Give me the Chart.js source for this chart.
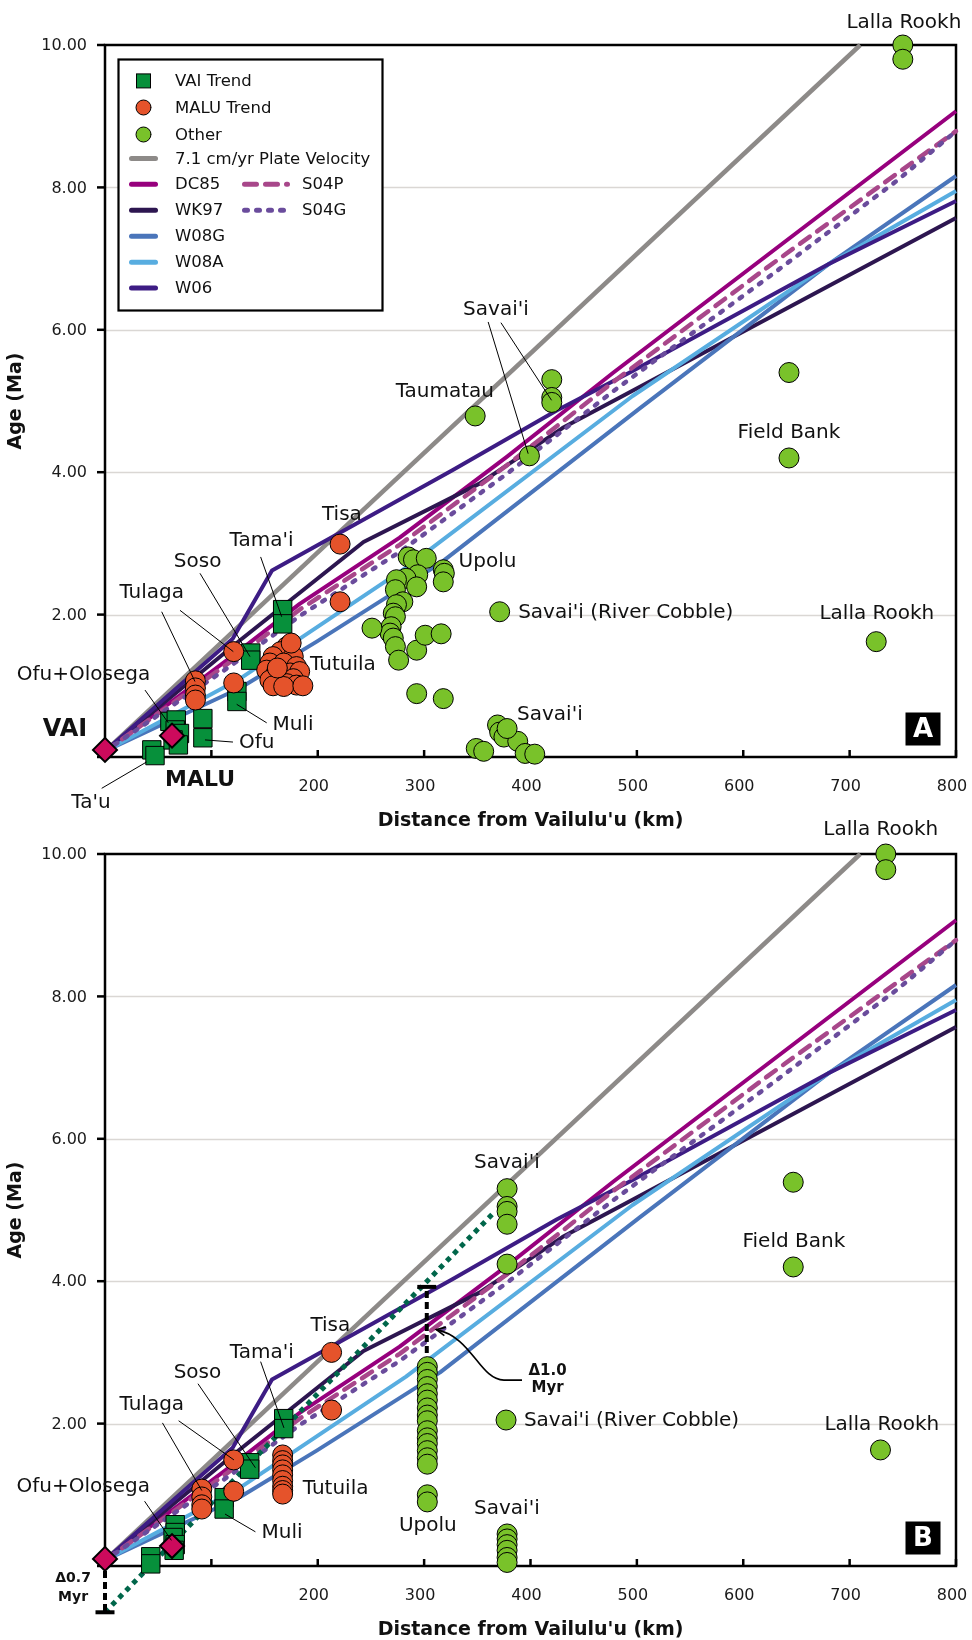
<!DOCTYPE html>
<html>
<head>
<meta charset="utf-8">
<title>Age vs distance from Vailulu'u</title>
<script src="https://cdn.jsdelivr.net/npm/chart.js@4.4.1/dist/chart.umd.min.js"></script>
<style>
  html, body { margin: 0; padding: 0; background: #fff; }
  #wrap { position: relative; width: 972px; height: 1640px; overflow: hidden; }
  canvas { position: absolute; left: 0; }
  #panelA { top: 0; }
  #panelB { top: 809px; }
</style>
</head>
<body>
<div id="wrap">
  <canvas id="panelA" width="972" height="840"></canvas>
  <canvas id="panelB" width="972" height="831"></canvas>
</div>
<script>
// ---------- axes ----------
const xTickValues = [100, 200, 300, 400, 500, 600, 700, 800];
const xTickLabels = ['', '200', '300', '400', '500', '600', '700', '800'];
const yTickValues = [0, 2, 4, 6, 8, 10];
const yTickLabels = ['', '2.00', '4.00', '6.00', '8.00', '10.00'];

// ---------- plate-motion model tracks [distance km, age Ma] ----------
const velocity71 = [[0, 0.08], [710, 10]];
const dc85 = [[0, 0.08], [120, 1.42], [183, 2.15], [277, 3.08], [378, 4.22], [478, 5.4], [800, 9.07]];
const s04p = [[0, 0.08], [120, 1.36], [183, 2.07], [277, 2.98], [378, 4.1], [478, 5.27], [622, 6.87], [745, 8.2], [800, 8.79]];
const s04g = [[0, 0.08], [120, 1.3], [183, 1.98], [277, 2.88], [378, 3.98], [478, 5.14], [622, 6.72], [745, 8.1], [800, 8.79]];
const wk97 = [[0, 0.08], [127, 1.64], [243, 3.02], [352, 3.84], [430, 4.62], [484, 5.05], [800, 7.57]];
const w08g = [[0, 0.08], [127, 0.97], [199, 1.62], [315, 2.72], [503, 4.9], [680, 6.92], [800, 8.16]];
const w08a = [[0, 0.08], [127, 1.1], [283, 2.66], [496, 5.07], [680, 6.92], [800, 7.95]];
const w06 = [[0, 0.08], [120, 1.66], [157, 2.62], [327, 4.03], [425, 4.87], [496, 5.42], [680, 6.92], [800, 7.81]];

// ---------- panel A samples ----------
const volcanoCentresA = [[0, 0.1], [63, 0.3]];
const vaiTrendA = [[44, 0.1], [47, 0.02], [61, 0.5], [67, 0.52], [66, 0.38], [70, 0.33], [64, 0.24], [69, 0.17],
  [92, 0.54], [92, 0.27], [124, 0.92], [124, 0.78], [137, 1.46], [137, 1.36], [167, 2.07], [167, 1.87]];
const maluTrendA = [[85, 1.07], [85, 0.97], [85, 0.87], [85, 0.8], [121, 1.48], [121, 1.04],
  [171, 1.55], [165, 1.48], [158, 1.41], [177, 1.41], [155, 1.32], [168, 1.32], [180, 1.27], [152, 1.22],
  [161, 1.18], [174, 1.18], [183, 1.2], [155, 1.08], [165, 1.06], [177, 1.1], [171, 1.03], [180, 1.01],
  [158, 1.0], [168, 0.99], [186, 1.0], [162, 1.25], [175, 1.6],
  [221, 2.99], [221, 2.18]];
const otherA = [[750, 10.0], [750, 9.8], [420, 5.3], [420, 5.05], [420, 4.98], [348, 4.79], [399, 4.23],
  [643, 5.4], [643, 4.2], [725, 1.62], [371, 2.04],
  [285, 2.81], [290, 2.77], [302, 2.79], [294, 2.56], [283, 2.51], [318, 2.63], [319, 2.58], [318, 2.46],
  [293, 2.39], [274, 2.49], [273, 2.35], [280, 2.18], [274, 2.14], [271, 2.02], [273, 1.97], [269, 1.83],
  [268, 1.74], [271, 1.67], [273, 1.55], [276, 1.36], [251, 1.81], [293, 1.5], [301, 1.71], [316, 1.73],
  [293, 0.89], [318, 0.82],
  [369, 0.45], [371, 0.35], [375, 0.28], [349, 0.12], [356, 0.08], [388, 0.22], [395, 0.05], [404, 0.04], [378, 0.4]];

// ---------- panel B samples ----------
const volcanoCentresB = [[0, 0.1], [63, 0.28]];
const vaiTrendB = [[43, 0.13], [43, 0.03], [66, 0.58], [66, 0.47], [64, 0.4], [66, 0.3], [65, 0.22],
  [112, 0.96], [112, 0.8], [136, 1.45], [136, 1.36], [168, 2.07], [168, 1.93]];
const maluTrendB = [[91, 1.08], [91, 0.97], [91, 0.86], [91, 0.8], [121, 1.49], [121, 1.05],
  [167, 1.56], [167, 1.48], [167, 1.42], [167, 1.35], [167, 1.28], [167, 1.2], [167, 1.12], [167, 1.06], [167, 1.01],
  [213, 3.0], [213, 2.19]];
const otherB = [[734, 10.0], [734, 9.78], [378, 5.3], [378, 5.05], [378, 4.98], [378, 4.8], [378, 4.24],
  [647, 5.39], [647, 4.2], [729, 1.63], [377, 2.05],
  [303, 2.8], [303, 2.72], [303, 2.62], [303, 2.52], [303, 2.42], [303, 2.33], [303, 2.22], [303, 2.12],
  [303, 2.04], [303, 1.9], [303, 1.8], [303, 1.72], [303, 1.62], [303, 1.52], [303, 1.43], [303, 1.0], [303, 0.9],
  [378, 0.45], [378, 0.38], [378, 0.3], [378, 0.22], [378, 0.12], [378, 0.05]];
const offsetTrack = [[0, -0.65], [366, 4.97]];

// ---------- styles ----------
const FONT = '"DejaVu Sans", Verdana, sans-serif';
const COL = {
  vai: '#07903b', malu: '#e5532b', other: '#79c22a', centre: '#cc0a5c',
  v71: '#8d8a88', dc85: '#97007d', s04p: '#a8478a', s04g: '#6a4c9c',
  wk97: '#2d1650', w08g: '#4a75ba', w08a: '#58ade0', w06: '#3d1c84', track: '#00664a'
};
const DASH_S04P = [12, 9];
const DASH_S04G = [3, 9];

const pts = arr => arr.map(([x, y]) => ({ x, y }));
function lineSet(label, arr, color, width, dash, cap) {
  return {
    label, data: pts(arr), showLine: true, borderColor: color, backgroundColor: color,
    borderWidth: width, borderDash: dash || [], borderCapStyle: cap || 'butt', borderJoinStyle: 'round',
    pointRadius: 0, pointHoverRadius: 0, tension: 0, fill: false, clip: false
  };
}
function markerSet(label, arr, style, radius, fill, bw) {
  return {
    label, data: pts(arr), showLine: false, pointStyle: style, pointRadius: radius, pointHoverRadius: radius,
    pointBackgroundColor: fill, pointBorderColor: '#000', pointBorderWidth: bw, clip: false
  };
}
function modelLines() {
  return [
    lineSet('S04G', s04g, COL.s04g, 4.5, DASH_S04G, 'round'),
    lineSet('S04P', s04p, COL.s04p, 4.5, DASH_S04P, 'round'),
    lineSet('W06', w06, COL.w06, 4),
    lineSet('W08A', w08a, COL.w08a, 4),
    lineSet('W08G', w08g, COL.w08g, 4),
    lineSet('WK97', wk97, COL.wk97, 4),
    lineSet('DC85', dc85, COL.dc85, 4),
    lineSet('7.1 cm/yr Plate Velocity', velocity71, COL.v71, 4.5)
  ];
}
function datasetsFor(centres, vai, malu, other, extra) {
  return [
    markerSet('Volcano centres', centres, 'rectRot', 12, COL.centre, 2),
    markerSet('MALU Trend', malu, 'circle', 10, COL.malu, 1),
    markerSet('VAI Trend', vai, 'rect', 13, COL.vai, 1),
    markerSet('Other', other, 'circle', 10, COL.other, 1),
    ...extra,
    ...modelLines()
  ];
}

// ---------- annotations (positions in data units) ----------
const PANELS = {
  panelA: {
    letter: 'A', legend: true,
    labels: [
      ['Lalla Rookh', 751, 10.31], ["Savai'i", 367.5, 6.28], ['Taumatau', 319.5, 5.13], ['Field Bank', 643, 4.56],
      ['Tisa', 222.7, 3.4], ["Tama'i", 147.2, 3.03], ['Soso', 87.1, 2.74], ['Tulaga', 43.9, 2.3],
      ['Ofu+Olosega', -20.2, 1.15], ['Ofu', 142.6, 0.2], ['Muli', 176.7, 0.45], ['Tutuila', 223.7, 1.29],
      ['Upolu', 359.6, 2.74], ["Savai'i (River Cobble)", 388.4, 2.02, 'left'], ['Lalla Rookh', 725.6, 2.01],
      ["Savai'i", 418.2, 0.59], ["Ta'u", -13.2, -0.65]
    ],
    bold: [['VAI', -37.6, 0.38, 24], ['MALU', 89.3, -0.32, 22]],
    leaders: [
      [360.2, 6.11, 397.8, 4.26], [372.2, 6.1, 419.8, 5.01], [146.3, 2.81, 166.1, 1.97],
      [89.3, 2.58, 136.3, 1.41], [53.3, 2.04, 84.6, 1.06], [70.5, 2.06, 120.6, 1.48],
      [37.6, 0.94, 59.5, 0.48], [-3.1, -0.44, 39.1, -0.07], [120.3, 0.21, 94, 0.24], [152, 0.48, 123.8, 0.74]
    ]
  },
  panelB: {
    letter: 'B', legend: false,
    labels: [
      ['Lalla Rookh', 729.3, 10.34], ["Savai'i", 377.8, 5.66], ['Field Bank', 647.6, 4.55], ['Tisa', 211.8, 3.37],
      ["Tama'i", 147.4, 2.99], ['Soso', 86.9, 2.71], ['Tulaga', 44, 2.26], ['Ofu+Olosega', -20.5, 1.11],
      ['Muli', 166.4, 0.46], ['Tutuila', 216.8, 1.08], ['Upolu', 303.5, 0.56], ["Savai'i", 377.8, 0.81],
      ["Savai'i (River Cobble)", 393.8, 2.04, 'left'], ['Lalla Rookh', 730.3, 1.99]
    ],
    bold: [['Δ1.0', 416, 2.74, 15], ['Myr', 416, 2.5, 15], ['Δ0.7', -30, -0.17, 14], ['Myr', -30, -0.44, 14]],
    leaders: [
      [146.3, 2.87, 168.2, 1.94], [87.4, 2.56, 141.4, 1.38], [54, 2.01, 91, 1.06],
      [69.2, 2.04, 121.2, 1.49], [37.2, 0.91, 62.4, 0.36], [141.4, 0.48, 112.8, 0.73]
    ],
    offsets: { lower: [0, 0.1, -0.65], upper: [302.5, 2.99, 3.92] },
    arrow: [[392, 2.61], [375, 2.61], [352, 2.62], [345, 3.22], [311.5, 3.32]]
  }
};

const LEGEND_ROWS = [
  { kind: 'rect', color: COL.vai, text: 'VAI Trend' },
  { kind: 'circle', color: COL.malu, text: 'MALU Trend' },
  { kind: 'circle', color: COL.other, text: 'Other' },
  { kind: 'line', color: COL.v71, text: '7.1 cm/yr Plate Velocity' },
  { kind: 'line', color: COL.dc85, text: 'DC85', right: { color: COL.s04p, dash: DASH_S04P, text: 'S04P' } },
  { kind: 'line', color: COL.wk97, text: 'WK97', right: { color: COL.s04g, dash: DASH_S04G, text: 'S04G' } },
  { kind: 'line', color: COL.w08g, text: 'W08G' },
  { kind: 'line', color: COL.w08a, text: 'W08A' },
  { kind: 'line', color: COL.w06, text: 'W06' }
];

// ---------- drawing helpers ----------
function seg(ctx, x1, y1, x2, y2) { ctx.beginPath(); ctx.moveTo(x1, y1); ctx.lineTo(x2, y2); ctx.stroke(); }

function drawLegend(chart) {
  const { ctx, chartArea: a } = chart;
  const L = a.left + 13.5, T = a.top + 14.5, W = 264, H = 251;
  ctx.save();
  ctx.fillStyle = '#fff';
  ctx.fillRect(L, T, W, H);
  ctx.strokeStyle = '#000'; ctx.lineWidth = 2.2;
  ctx.strokeRect(L, T, W, H);
  const rowY = [21.4, 48, 75, 99, 124.7, 150.7, 176.7, 202.7, 228.4];
  ctx.font = '16.5px ' + FONT; ctx.textBaseline = 'middle'; ctx.textAlign = 'left'; ctx.lineCap = 'round';
  LEGEND_ROWS.forEach((r, i) => {
    const y = T + rowY[i];
    if (r.kind === 'rect') {
      ctx.fillStyle = r.color; ctx.fillRect(L + 18, y - 7, 14, 14);
      ctx.lineWidth = 1; ctx.strokeStyle = '#000'; ctx.strokeRect(L + 18, y - 7, 14, 14);
    } else if (r.kind === 'circle') {
      ctx.beginPath(); ctx.arc(L + 25, y, 7.5, 0, Math.PI * 2);
      ctx.fillStyle = r.color; ctx.fill(); ctx.lineWidth = 1; ctx.strokeStyle = '#000'; ctx.stroke();
    } else {
      ctx.setLineDash([]); ctx.strokeStyle = r.color; ctx.lineWidth = 5;
      seg(ctx, L + 13, y, L + 37, y);
    }
    ctx.fillStyle = '#111';
    ctx.fillText(r.text, L + 56.5, y + 1);
    if (r.right) {
      ctx.strokeStyle = r.right.color; ctx.lineWidth = 5; ctx.setLineDash(r.right.dash);
      seg(ctx, L + 126, y, L + 169, y);
      ctx.setLineDash([]);
      ctx.fillText(r.right.text, L + 183.5, y + 1);
    }
  });
  ctx.restore();
}

const decor = {
  id: 'decor',
  beforeDatasetsDraw(chart) {
    const { ctx, chartArea: a } = chart;
    const sx = chart.scales.x, sy = chart.scales.y;
    ctx.save();
    ctx.strokeStyle = '#dad7d4'; ctx.lineWidth = 1.5;
    yTickValues.forEach(v => {
      if (v > 0 && v < 10) { const Y = Math.round(sy.getPixelForValue(v)) + 0.5; seg(ctx, a.left, Y, a.right, Y); }
    });
    ctx.strokeStyle = '#000'; ctx.lineWidth = 2.5;
    ctx.strokeRect(a.left, a.top, a.right - a.left, a.bottom - a.top);
    yTickValues.forEach(v => { const Y = sy.getPixelForValue(v); seg(ctx, a.left - 8, Y, a.left, Y); });
    xTickValues.forEach(v => { const X = sx.getPixelForValue(v); seg(ctx, X, a.bottom, X, a.bottom - 7); });

    // tick labels
    ctx.fillStyle = '#1a1a1a'; ctx.font = '16px ' + FONT; ctx.textBaseline = 'middle';
    ctx.textAlign = 'right';
    yTickValues.forEach((v, i) => { if (yTickLabels[i]) ctx.fillText(yTickLabels[i], a.left - 18, sy.getPixelForValue(v) + 1); });
    ctx.textAlign = 'center';
    xTickValues.forEach((v, i) => { if (xTickLabels[i]) ctx.fillText(xTickLabels[i], sx.getPixelForValue(v) - 4, a.bottom + 30); });

    // axis titles
    ctx.font = 'bold 19px ' + FONT; ctx.fillStyle = '#111';
    ctx.fillText("Distance from Vailulu'u (km)", (a.left + a.right) / 2, a.bottom + 64);
    ctx.save();
    ctx.translate(16, (a.top + a.bottom) / 2);
    ctx.rotate(-Math.PI / 2);
    ctx.fillText('Age (Ma)', 0, 0);
    ctx.restore();
    ctx.restore();
  },
  afterDatasetsDraw(chart) {
    const cfg = PANELS[chart.canvas.id];
    const { ctx, chartArea: a } = chart;
    const sx = chart.scales.x, sy = chart.scales.y;
    const X = v => sx.getPixelForValue(v), Y = v => sy.getPixelForValue(v);
    ctx.save();

    // leader lines
    ctx.strokeStyle = '#000'; ctx.lineWidth = 1;
    cfg.leaders.forEach(([x1, y1, x2, y2]) => seg(ctx, X(x1), Y(y1), X(x2), Y(y2)));

    // offset bars and arrow (panel B)
    if (cfg.offsets) {
      ctx.lineWidth = 4; ctx.setLineDash([7, 4]);
      const lo = cfg.offsets.lower, up = cfg.offsets.upper;
      seg(ctx, X(lo[0]), Y(lo[1]) + 12, X(lo[0]), Y(lo[2]));
      seg(ctx, X(up[0]), Y(up[1]), X(up[0]), Y(up[2]));
      ctx.setLineDash([]);
      seg(ctx, X(lo[0]) - 9.5, Y(lo[2]), X(lo[0]) + 9.5, Y(lo[2]));
      seg(ctx, X(up[0]) - 9.5, Y(up[2]), X(up[0]) + 9.5, Y(up[2]));

      const p = cfg.arrow.map(([u, v]) => [X(u), Y(v)]);
      ctx.lineWidth = 1.6;
      ctx.beginPath();
      ctx.moveTo(p[0][0], p[0][1]);
      ctx.lineTo(p[1][0], p[1][1]);
      ctx.bezierCurveTo(p[2][0], p[2][1], p[3][0], p[3][1], p[4][0], p[4][1]);
      ctx.stroke();
      const ang = Math.atan2(p[4][1] - p[3][1], p[4][0] - p[3][0]);
      const hl = 10;
      ctx.beginPath();
      ctx.moveTo(p[4][0] - hl * Math.cos(ang - 0.45), p[4][1] - hl * Math.sin(ang - 0.45));
      ctx.lineTo(p[4][0], p[4][1]);
      ctx.lineTo(p[4][0] - hl * Math.cos(ang + 0.45), p[4][1] - hl * Math.sin(ang + 0.45));
      ctx.stroke();
    }

    // text labels
    ctx.fillStyle = '#111'; ctx.textBaseline = 'middle';
    ctx.font = '20px ' + FONT;
    cfg.labels.forEach(([t, u, v, al]) => { ctx.textAlign = al || 'center'; ctx.fillText(t, X(u), Y(v)); });
    ctx.textAlign = 'center';
    cfg.bold.forEach(([t, u, v, size]) => { ctx.font = 'bold ' + size + 'px ' + FONT; ctx.fillText(t, X(u), Y(v)); });

    // panel letter
    const cx = a.right - 33, cy = a.bottom - 28;
    ctx.fillStyle = '#000';
    ctx.fillRect(cx - 17.5, cy - 16.5, 35, 33);
    ctx.fillStyle = '#fff'; ctx.font = 'bold 26px ' + FONT;
    ctx.fillText(cfg.letter, cx, cy + 1);
    ctx.restore();

    if (cfg.legend) drawLegend(chart);
  }
};

function makePanel(id, datasets) {
  const canvas = document.getElementById(id);
  const H = canvas.height;
  return new Chart(canvas, {
    type: 'scatter',
    data: { datasets },
    options: {
      responsive: false, animation: false, devicePixelRatio: 1, events: [],
      layout: { padding: { left: 0, right: 16, top: 45, bottom: 0 } },
      plugins: { legend: { display: false }, tooltip: { enabled: false } },
      scales: {
        x: {
          type: 'linear', min: 0, max: 800,
          ticks: { display: false }, grid: { display: false }, border: { display: false },
          afterFit(s) { s.height = H - 757; }
        },
        y: {
          type: 'linear', min: 0, max: 10,
          ticks: { display: false }, grid: { display: false }, border: { display: false },
          afterFit(s) { s.width = 105; }
        }
      }
    },
    plugins: [decor]
  });
}

makePanel('panelA', datasetsFor(volcanoCentresA, vaiTrendA, maluTrendA, otherA, []));
makePanel('panelB', datasetsFor(volcanoCentresB, vaiTrendB, maluTrendB, otherB,
  [lineSet('Offset track', offsetTrack, COL.track, 5, [5, 5])]));
</script>
</body>
</html>
